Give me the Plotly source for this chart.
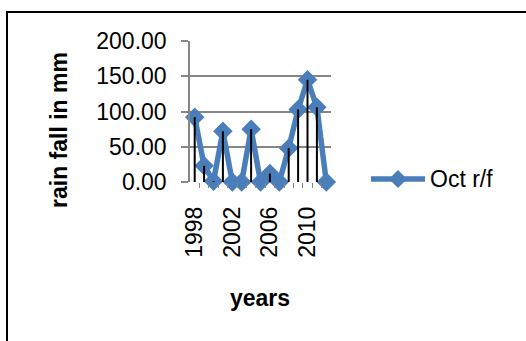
import plotly.graph_objects as go

# October rainfall (mm), 1998-2012
years = [1998, 1999, 2000, 2001, 2002, 2003, 2004, 2005, 2006, 2007, 2008, 2009, 2010, 2011, 2012]
oct_rf = [92, 23, 1, 72, 0, 0, 75, 0, 12, 0, 48, 103, 145, 106, 0]
year_ticks = [1998, 2002, 2006, 2010]
y_ticks = [0, 50, 100, 150, 200]
series_name = "Oct r/f"

BLUE = "#4A7EBB"
FONT = "Liberation Sans"

# plot-area pixel geometry
W, H = 526, 341
L, R, T, B = 190, 331, 41, 182
pw, ph = R - L, B - T


def px(x):
    return (x - L) / pw


def py(y):
    return (B - y) / ph


fig = go.Figure()

fig.add_trace(go.Scatter(
    x=years, y=oct_rf, mode="lines+markers", name=series_name,
    line=dict(color=BLUE, width=5.5),
    marker=dict(symbol="diamond", size=15, color=BLUE, line=dict(width=0)),
    cliponaxis=False, showlegend=False,
))

# drop lines from each point down to zero
dx, dy = [], []
for yr, v in zip(years, oct_rf):
    dx += [yr, yr, None]
    dy += [0, v, None]
fig.add_trace(go.Scatter(
    x=dx, y=dy, mode="lines", showlegend=False, hoverinfo="skip",
    line=dict(color="black", width=2), cliponaxis=False,
))

# legend key: line with a diamond, then the series name
lx0, lx1, ly = 371, 425, 179
lc = (lx0 + lx1) / 2
d = 9
legend_shapes = [
    dict(type="line", xref="paper", yref="paper",
         x0=px(lx0), x1=px(lx1), y0=py(ly), y1=py(ly),
         line=dict(color=BLUE, width=5.5)),
    dict(type="path", xref="paper", yref="paper",
         path=(f"M{px(lc - d)},{py(ly)} L{px(lc)},{py(ly - d)} "
               f"L{px(lc + d)},{py(ly)} L{px(lc)},{py(ly + d)} Z"),
         fillcolor=BLUE, line=dict(width=0)),
]

fig.update_layout(
    width=W, height=H,
    margin=dict(l=L, r=W - R, t=T, b=H - B, autoexpand=False),
    paper_bgcolor="white", plot_bgcolor="white",
    font=dict(family=FONT, size=23, color="black"),
    showlegend=False,
    xaxis=dict(
        range=[1997.5, 2012.5], tickmode="array", tickvals=year_ticks,
        ticktext=[str(v) for v in year_ticks], tickangle=-90,
        ticks="", showgrid=False, zeroline=False, showline=False,
        ticklabelstandoff=19,
        minor=dict(tickmode="array", tickvals=[v + 0.5 for v in years[:-1]],
                   ticks="outside", ticklen=5, tickcolor="#868686", showgrid=False),
    ),
    yaxis=dict(
        range=[0, 200], tickmode="array", tickvals=y_ticks,
        ticktext=[f"{v:.2f}" for v in y_ticks],
        ticks="outside", ticklen=7, tickcolor="#868686", tickwidth=1.5,
        showgrid=True, gridcolor="#868686", gridwidth=1.5,
        showline=True, linecolor="#868686", linewidth=1.5,
        zeroline=False, ticklabelstandoff=10,
    ),
    annotations=[
        dict(text="<b>rain fall in mm</b>", xref="paper", yref="paper",
             x=px(59), y=py(130), xanchor="center", yanchor="middle",
             textangle=-90, showarrow=False, font=dict(size=23)),
        dict(text="<b>years</b>", xref="paper", yref="paper",
             x=px(260), y=py(298), xanchor="center", yanchor="middle",
             showarrow=False, font=dict(size=23)),
        dict(text=series_name, xref="paper", yref="paper",
             x=px(428), y=py(ly), xanchor="left", yanchor="middle",
             showarrow=False, font=dict(size=23)),
    ],
    shapes=[
        dict(type="rect", xref="paper", yref="paper",
             x0=px(7), y0=py(360), x1=px(560), y1=py(12),
             line=dict(color="black", width=2), layer="below"),
    ] + legend_shapes,
)

fig.write_html("out.html")
